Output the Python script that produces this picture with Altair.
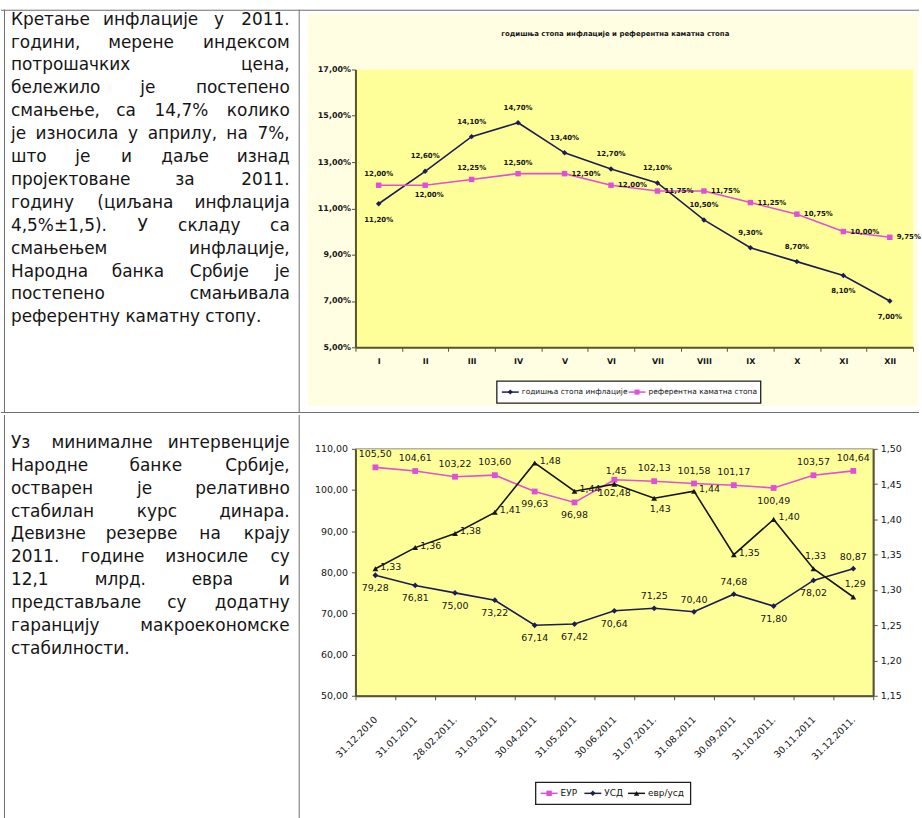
import altair as alt
import pandas as pd

FONT = "DejaVu Sans"
INK = "#151515"
NAVY = "#1d1d55"
BLACK = "#161616"
MAGENTA = "#e04fd8"
AXIS = "#55552f"
PLOT_FILL = "#ffff99"
CHART_FILL = "#fffee2"
RULE = "#6e6e6e"

# ---------------- content ----------------
paragraph_top = [
    "Кретање инфлације у 2011.",
    "години, мерене индексом",
    "потрошачких цена,",
    "бележило је постепено",
    "смањење, са 14,7% колико",
    "је износила у априлу, на 7%,",
    "што је и даље изнад",
    "пројектоване за 2011.",
    "годину (циљана инфлација",
    "4,5%±1,5). У складу са",
    "смањењем инфлације,",
    "Народна банка Србије је",
    "постепено смањивала",
    "референтну каматну стопу.",
]
paragraph_bottom = [
    "Уз минималне интервенције",
    "Народне банке Србије,",
    "остварен је релативно",
    "стабилан курс динара.",
    "Девизне резерве на крају",
    "2011. године износиле су",
    "12,1 млрд. евра и",
    "представљале су додатну",
    "гаранцију макроекономске",
    "стабилности.",
]

top_title = "годишња стопа инфлације и референтна каматна стопа"
top_series = ["годишња стопа инфлације", "референтна каматна стопа"]
months = ["I", "II", "III", "IV", "V", "VI", "VII", "VIII", "IX", "X", "XI", "XII"]
inflation = [11.20, 12.60, 14.10, 14.70, 13.40, 12.70, 12.10, 10.50, 9.30, 8.70, 8.10, 7.00]
policy_rate = [12.00, 12.00, 12.25, 12.50, 12.50, 12.00, 11.75, 11.75, 11.25, 10.75, 10.00, 9.75]

bottom_series = ["ЕУР", "УСД", "евр/усд"]
dates = ["31.12.2010", "31.01.2011", "28.02.2011.", "31.03.2011", "30.04.2011",
         "31.05.2011", "30.06.2011", "31.07.2011.", "31.08.2011", "30.09.2011",
         "31.10.2011.", "30.11.2011", "31.12.2011."]
eur = [105.50, 104.61, 103.22, 103.60, 99.63, 96.98, 102.48, 102.13, 101.58, 101.17, 100.49, 103.57, 104.64]
usd = [79.28, 76.81, 75.00, 73.22, 67.14, 67.42, 70.64, 71.25, 70.40, 74.68, 71.80, 78.02, 80.87]
eur_usd = [1.33, 1.36, 1.38, 1.41, 1.48, 1.44, 1.45, 1.43, 1.44, 1.35, 1.40, 1.33, 1.29]

# which side of its point each value label sits on
infl_below = ["I", "XI", "XII"]
rate_above = ["I", "III", "IV"]
rate_below = ["II"]
eur_below = ["30.04.2011", "31.05.2011", "30.06.2011", "31.10.2011."]
usd_above = ["31.07.2011.", "31.08.2011", "30.09.2011", "31.12.2011."]
ratio_above = ["30.06.2011", "30.11.2011", "31.12.2011."]
ratio_below = ["31.07.2011."]

# ---------------- page geometry (pixels) ----------------
PAGE_W, PAGE_H = 922, 818
ROW_Y = 412
TOP = dict(x0=356, y0=67, w=560, h=279)
BOT = dict(x0=356, y0=446, w=520, h=248)

ONE = pd.DataFrame({"k": [0]})


def pos(o, x1, y1, x2=None, y2=None):
    enc = dict(x=alt.value(x1 - o["x0"]), y=alt.value(y1 - o["y0"]))
    if x2 is not None:
        enc["x2"] = alt.value(x2 - o["x0"])
    if y2 is not None:
        enc["y2"] = alt.value(y2 - o["y0"])
    return enc


def box(o, x1, y1, x2, y2, **kw):
    return alt.Chart(ONE).mark_rect(**kw).encode(**pos(o, x1, y1, x2, y2))


def seg(o, x1, y1, x2, y2, color=RULE, width=1.0):
    return alt.Chart(ONE).mark_rule(color=color, strokeWidth=width).encode(**pos(o, x1, y1, x2, y2))


def note(o, x, y, text, size, **kw):
    return alt.Chart(ONE).mark_text(text=text, font=FONT, fontSize=size, color=INK, **kw).encode(**pos(o, x, y))


def marker(o, x, y, shape, color, size):
    return alt.Chart(ONE).mark_point(shape=shape, filled=True, color=color, size=size,
                                     opacity=1).encode(**pos(o, x, y))


def char_w(c):
    if c in " .,:;'":
        return 0.318
    if c in "()":
        return 0.39
    if c == "%":
        return 0.95
    if c == "±":
        return 0.838
    if c.isdigit():
        return 0.636
    if c in "јij":
        return 0.278
    if c in "мшщжюфњљы":
        return 0.8
    if c in "МШЩЖЮФЊЉ":
        return 0.95
    if c.isupper():
        return 0.7
    if c in "гзсвтэяьъ":
        return 0.55
    return 0.62


def text_width(s, size):
    return sum(char_w(c) for c in s) * size


def paragraph(o, lines, x_left, x_right, y_first, leading, size):
    """Justified paragraph: first word flush left, last flush right, the rest spread between."""
    rows = []
    for i, line in enumerate(lines):
        y = y_first + i * leading - o["y0"]
        words = line.split(" ")
        if i == len(lines) - 1 or len(words) == 1:
            rows.append(dict(word=line, px=x_left - o["x0"], py=y, side="left"))
            continue
        widths = [text_width(w, size) for w in words]
        gap = (x_right - x_left - sum(widths)) / (len(words) - 1)
        x = x_left
        for k, (w, wd) in enumerate(zip(words, widths)):
            if k == 0:
                rows.append(dict(word=w, px=x - o["x0"], py=y, side="left"))
            elif k == len(words) - 1:
                rows.append(dict(word=w, px=x_right - o["x0"], py=y, side="right"))
            else:
                rows.append(dict(word=w, px=x + wd / 2 - o["x0"], py=y, side="center"))
            x += wd + gap
    df = pd.DataFrame(rows)
    layers = []
    for side in ["left", "center", "right"]:
        layers.append(
            alt.Chart(df).transform_filter(alt.datum.side == side)
            .mark_text(align=side, baseline="middle", font=FONT, fontSize=size, color=INK)
            .encode(x=alt.X("px:Q", scale=None, axis=None),
                    y=alt.Y("py:Q", scale=None, axis=None),
                    text="word:N")
        )
    return layers


def legend(o, entries, x_start, yc, font_size, seg_len, mk_size):
    """Boxed horizontal legend: line stub with its marker, then the name."""
    layers = []
    x = x_start + 5
    items = []
    for name, color, shape in entries:
        items.append(seg(o, x, yc, x + seg_len, yc, color=color, width=1.5))
        items.append(marker(o, x + seg_len / 2, yc, shape, color, mk_size))
        items.append(note(o, x + seg_len + 3, yc, name, font_size, align="left", baseline="middle"))
        x += seg_len + 3 + text_width(name, font_size) + 5
    x_end = x
    layers.append(box(o, x_start, yc - 11, x_end, yc + 11, fill="white", stroke="#202020", strokeWidth=1.3))
    return layers + items


def fmt_expr(field, suffix=""):
    expr = f"replace(format(datum.{field}, '.2f'), '.', ',')"
    if suffix:
        expr += f" + '{suffix}'"
    return expr


def axis_style(**kw):
    base = dict(title=None, grid=False, domainColor=AXIS, domainWidth=2, tickColor=AXIS,
                tickSize=4, tickWidth=1, labelFont=FONT, labelColor=INK, zindex=1)
    base.update(kw)
    return alt.Axis(**base)


# ================= top chart: inflation vs policy rate =================
o = TOP
top_df = pd.DataFrame({
    "idx": list(range(len(months))) * 2,
    "month": months * 2,
    "series": [top_series[0]] * len(months) + [top_series[1]] * len(months),
    "value": inflation + policy_rate,
})

x_top = alt.X("month:N", sort=months,
              scale=alt.Scale(domain=months, paddingInner=0, paddingOuter=0),
              axis=axis_style(labelAngle=0, tickBand="extent", labelFontSize=8,
                              labelFontWeight="bold", labelPadding=6))
y_top = alt.Y("value:Q", scale=alt.Scale(domain=[5, 17], nice=False, zero=False),
              axis=axis_style(values=[5, 7, 9, 11, 13, 15, 17], labelFontSize=8,
                              labelFontWeight="bold", labelPadding=1,
                              labelExpr=fmt_expr("value", "%")))
top_color = alt.Color("series:N", scale=alt.Scale(domain=top_series, range=[NAVY, MAGENTA]), legend=None)
top_shape = alt.Shape("series:N", scale=alt.Scale(domain=top_series, range=["diamond", "square"]), legend=None)

top_base = alt.Chart(top_df).encode(x=x_top, y=y_top)
top_lines = top_base.mark_line(strokeWidth=1.6).encode(color=top_color, order="idx:Q")
top_points = top_base.mark_point(filled=True, size=30, opacity=1).encode(color=top_color, shape=top_shape)


def top_labels(series, keep, dx, dy, align):
    return (top_base
            .transform_filter(alt.datum.series == series)
            .transform_filter(alt.FieldOneOfPredicate(field="month", oneOf=keep))
            .transform_calculate(lab=fmt_expr("value", "%"))
            .mark_text(font=FONT, fontSize=7, fontWeight="bold", color=INK,
                       dx=dx, dy=dy, align=align, baseline="middle")
            .encode(text="lab:N"))


infl_above = [m for m in months if m not in infl_below]
rate_right = [m for m in months if m not in rate_above + rate_below]

top_layers = [
    box(o, 0, 0, PAGE_W, ROW_Y, fill="white"),
    box(o, 308, 11, 921, 405, fill=CHART_FILL),
    box(o, o["x0"], o["y0"], o["x0"] + o["w"], o["y0"] + o["h"], fill=PLOT_FILL),
    seg(o, 0, 7.5, PAGE_W, 7.5),
    seg(o, 3.5, 7, 3.5, ROW_Y),
    seg(o, 299.5, 7, 299.5, ROW_Y),
    seg(o, 0, ROW_Y - 0.5, PAGE_W, ROW_Y - 0.5),
    note(o, 617, 31, top_title, 7, fontWeight="bold", align="center", baseline="middle"),
    top_lines,
    top_points,
    top_labels(top_series[0], infl_above, 0, -15, "center"),
    top_labels(top_series[0], infl_below, 0, 16, "center"),
    top_labels(top_series[1], rate_above, 0, -11, "center"),
    top_labels(top_series[1], rate_below, 4, 10, "center"),
    top_labels(top_series[1], rate_right, 7, 0, "left"),
]
top_layers += paragraph(o, paragraph_top, 10, 290, 17, 23, 17)
top_layers += legend(o, [(top_series[0], NAVY, "diamond"), (top_series[1], MAGENTA, "square")],
                     498, 391, 7.5, 17, 26)

top_chart = alt.layer(*top_layers).properties(width=TOP["w"], height=TOP["h"])

# ================= bottom chart: exchange rates =================
o = BOT
n = len(dates)
left_df = pd.DataFrame({
    "idx": list(range(n)) * 2,
    "date": dates * 2,
    "series": [bottom_series[0]] * n + [bottom_series[1]] * n,
    "value": eur + usd,
})
right_df = pd.DataFrame({"idx": list(range(n)), "date": dates, "value": eur_usd})

x_bot = alt.X("date:N", sort=dates,
              scale=alt.Scale(domain=dates, paddingInner=0, paddingOuter=0),
              axis=axis_style(labelAngle=-45, labelAlign="right", labelBaseline="middle",
                              tickBand="extent", labelFontSize=9.5, labelPadding=18))
y_left = alt.Y("value:Q", scale=alt.Scale(domain=[50, 110], nice=False, zero=False),
               axis=axis_style(values=[50, 60, 70, 80, 90, 100, 110], labelFontSize=9.5,
                               labelPadding=4, labelExpr=fmt_expr("value")))
y_right = alt.Y("value:Q", scale=alt.Scale(domain=[1.15, 1.50], nice=False, zero=False),
                axis=axis_style(orient="right", values=[1.15, 1.20, 1.25, 1.30, 1.35, 1.40, 1.45, 1.50],
                                labelFontSize=9.5, labelPadding=3, labelExpr=fmt_expr("value")))
bot_color = alt.Color("series:N", scale=alt.Scale(domain=bottom_series[:2], range=[MAGENTA, NAVY]), legend=None)
bot_shape = alt.Shape("series:N", scale=alt.Scale(domain=bottom_series[:2], range=["square", "diamond"]), legend=None)

left_base = alt.Chart(left_df).encode(x=x_bot, y=y_left)
right_base = alt.Chart(right_df).encode(x=x_bot, y=y_right)


def bot_labels(base, series, keep, dx, dy, align):
    chart = base
    if series is not None:
        chart = chart.transform_filter(alt.datum.series == series)
    return (chart
            .transform_filter(alt.FieldOneOfPredicate(field="date", oneOf=keep))
            .transform_calculate(lab=fmt_expr("value"))
            .mark_text(font=FONT, fontSize=9.5, color=INK, dx=dx, dy=dy,
                       align=align, baseline="middle")
            .encode(text="lab:N"))


eur_above = [d for d in dates if d not in eur_below]
usd_below = [d for d in dates if d not in usd_above]
ratio_right = [d for d in dates if d not in ratio_above + ratio_below]

left_group = alt.layer(
    left_base.mark_line(strokeWidth=1.6).encode(color=bot_color, order="idx:Q"),
    left_base.mark_point(filled=True, size=34, opacity=1).encode(color=bot_color, shape=bot_shape),
    bot_labels(left_base, bottom_series[0], eur_above, 0, -13, "center"),
    bot_labels(left_base, bottom_series[0], eur_below, 0, 13, "center"),
    bot_labels(left_base, bottom_series[1], usd_above, 0, -12, "center"),
    bot_labels(left_base, bottom_series[1], usd_below, 0, 13, "center"),
)
right_group = alt.layer(
    right_base.mark_line(strokeWidth=1.6, color=BLACK).encode(order="idx:Q"),
    right_base.mark_point(filled=True, size=34, opacity=1, shape="triangle-up", color=BLACK),
    bot_labels(right_base, None, ratio_right, 5, -2, "left"),
    bot_labels(right_base, None, ratio_above, 2, -13, "center"),
    bot_labels(right_base, None, ratio_below, 6, 11, "center"),
)

bot_layers = [
    box(o, 0, ROW_Y, PAGE_W, PAGE_H, fill="white"),
    seg(o, 3.5, ROW_Y, 3.5, PAGE_H),
    seg(o, 299.5, ROW_Y, 299.5, PAGE_H),
    box(o, o["x0"], o["y0"], o["x0"] + o["w"], o["y0"] + o["h"], fill=PLOT_FILL,
        stroke="#8c8c8c", strokeWidth=1),
    left_group,
    right_group,
]
bot_layers += paragraph(o, paragraph_bottom, 10, 290, 440, 23, 17)
bot_layers += legend(o, [(bottom_series[0], MAGENTA, "square"), (bottom_series[1], NAVY, "diamond"),
                         (bottom_series[2], BLACK, "triangle-up")],
                     537, 792, 9, 17, 30)

bottom_chart = (alt.layer(*bot_layers)
                .resolve_scale(y="independent")
                .properties(width=BOT["w"], height=BOT["h"]))

# the two panels keep their own series colours and marker shapes
chart = (alt.vconcat(top_chart, bottom_chart, spacing=0)
         .resolve_scale(color="independent", shape="independent")
         .properties(padding=0, background="white")
         .configure_view(strokeWidth=0)
         .configure(font=FONT))

chart.save("out.html", embed_options={"renderer": "svg", "actions": False})
